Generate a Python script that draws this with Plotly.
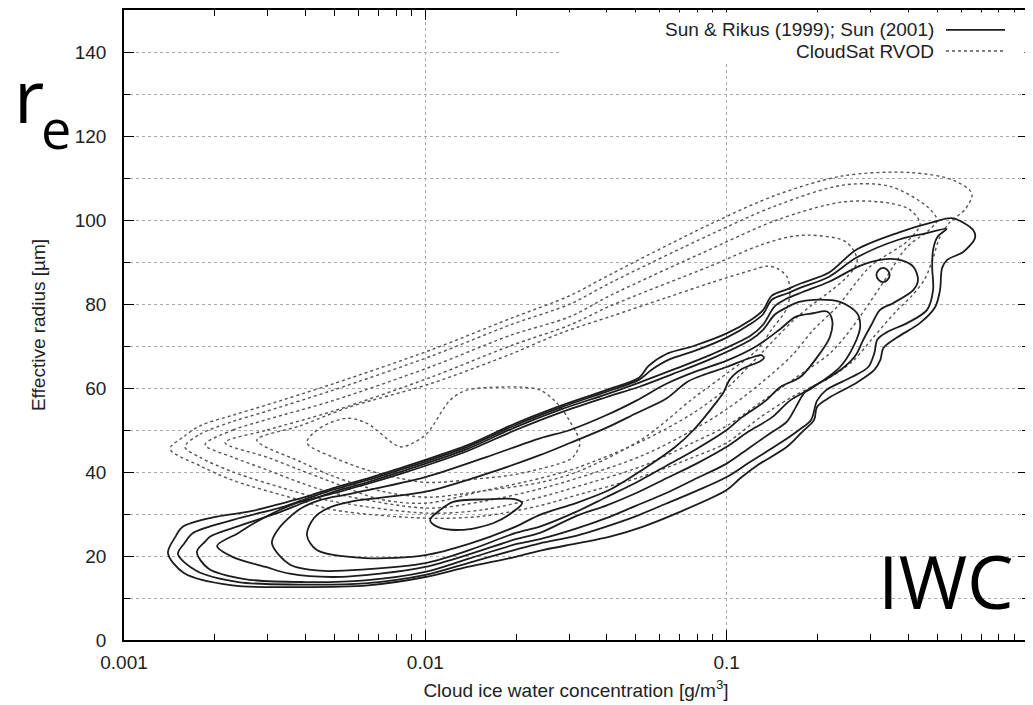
import numpy as np
import plotly.graph_objects as go

# ---------------------------------------------------------------------------
# Data.
# Each contour is a closed list of (log10 IWC [g/m^3], effective radius [um]).
# ---------------------------------------------------------------------------

# Sun & Rikus (1999); Sun (2001) -- solid contours, outermost first
SR_LEVEL1 = [(-2.854,20.7),(-2.83,24.5),(-2.804,27),(-2.691,29.4),(-2.582,30.6),(-2.472,32.6),(-2.40,34),
             (-2.30,36.3),(-2.19,38.5),(-2.08,41),(-1.97,43.6),(-1.86,46.4),(-1.70,51.6),(-1.55,55.8),
             (-1.40,59.5),(-1.29,62.5),(-1.26,65.2),(-1.20,68.1),(-1.11,70.0),(-1.00,73.0),(-0.92,76.2),
             (-0.88,78.5),(-0.85,82),(-0.80,83.5),(-0.75,85),(-0.66,87.5),(-0.57,92.9),(-0.43,97),
             (-0.315,99.5),(-0.249,100.4),(-0.182,97.6),(-0.176,95.7),(-0.215,92.4),(-0.268,90.5),
             (-0.285,88.6),(-0.292,83.3),(-0.308,79.3),(-0.358,75.5),(-0.435,72),(-0.48,69.5),(-0.49,66.7),
             (-0.51,64.3),(-0.57,61.2),(-0.655,57.9),(-0.70,55.5),(-0.71,52.4),(-0.75,49.5),(-0.80,46),
             (-0.90,41.5),(-0.955,38.5),(-1.00,35.7),(-1.165,30.2),(-1.277,27),(-1.387,24.6),(-1.497,23),
             (-1.61,21.4),(-1.70,19.8),(-1.86,17.4),(-2.00,15),(-2.19,13),(-2.42,12.6),(-2.64,13),
             (-2.80,15.9),(-2.854,20.7)]

SR_LEVEL2 = [(-2.821,20.5),(-2.80,23),(-2.771,25.5),(-2.638,28.6),(-2.472,31.7),(-2.40,33.5),(-2.30,35.9),
             (-2.19,38.1),(-2.08,40.6),(-1.97,43.2),(-1.86,46),(-1.70,51.2),(-1.55,55.4),(-1.40,59.1),
             (-1.29,62),(-1.25,64.3),(-1.19,66.8),(-1.10,69.0),(-1.00,72.0),(-0.92,75.3),(-0.88,77.5),
             (-0.85,81),(-0.80,82.5),(-0.75,84),(-0.66,86.5),(-0.57,91),(-0.43,95.3),(-0.34,96.8),
             (-0.27,97.9),(-0.30,96),(-0.315,92.9),(-0.318,88.8),(-0.315,83.3),(-0.335,78.6),(-0.40,75.5),
             (-0.468,73.3),(-0.50,71.5),(-0.51,68.3),(-0.53,65),(-0.585,62.6),(-0.67,59.5),(-0.70,57),
             (-0.72,52.4),(-0.76,50),(-0.82,47),(-0.92,42.5),(-1.00,38.8),(-1.10,35.5),(-1.20,32.5),
             (-1.30,29.5),(-1.40,27),(-1.50,24.8),(-1.62,23),(-1.70,21.5),(-1.85,18.5),(-2.00,15.5),
             (-2.20,13.5),(-2.42,13.2),(-2.62,13.8),(-2.76,16.5),(-2.821,20.5)]

SR_LEVEL3 = [(-2.758,21),(-2.73,23.5),(-2.715,24.6),(-2.638,26.7),(-2.492,30.2),(-2.40,32.8),(-2.30,35.4),
             (-2.19,37.6),(-2.08,40.1),(-1.97,42.7),(-1.86,45.5),(-1.70,50.7),(-1.55,54.9),(-1.40,58.5),
             (-1.29,61.3),(-1.18,64.3),(-1.05,68),(-0.92,72.5),(-0.88,75),(-0.84,79.5),(-0.80,81.3),
             (-0.75,82.8),(-0.66,85.3),(-0.56,89),(-0.491,90.5),(-0.434,90.6),(-0.381,88.9),(-0.365,85.7),
             (-0.381,83.3),(-0.448,80.2),(-0.491,78.6),(-0.52,75),(-0.55,71),(-0.57,68),(-0.61,65),
             (-0.66,62.5),(-0.74,59),(-0.77,55.5),(-0.80,52),(-0.86,49),(-0.93,45.5),(-1.00,42),
             (-1.10,38.5),(-1.20,35),(-1.30,32),(-1.40,29),(-1.50,26.5),(-1.62,24),(-1.70,22.8),
             (-1.85,19.5),(-2.00,16.2),(-2.20,14.2),(-2.40,13.8),(-2.60,14.5),(-2.72,17),(-2.758,21)]

SR_LEVEL4 = [(-2.691,22.4),(-2.62,25.5),(-2.549,28.6),(-2.439,32.3),(-2.30,35),(-2.19,37.2),(-2.08,39.6),
             (-1.97,42.2),(-1.86,45),(-1.70,50),(-1.55,54.2),(-1.40,57.8),(-1.29,60.3),(-1.18,63.3),
             (-1.05,67),(-0.92,71.5),(-0.88,73.8),(-0.84,77.5),(-0.80,79.2),(-0.76,80.5),(-0.713,81),
             (-0.624,80.5),(-0.567,77.8),(-0.557,74.6),(-0.58,69.8),(-0.624,65),(-0.713,60.2),(-0.79,57),
             (-0.85,53),(-0.93,49.5),(-1.00,46),(-1.10,42),(-1.20,38.5),(-1.30,35),(-1.40,32),(-1.50,29.5),
             (-1.62,25.5),(-1.70,24),(-1.85,20.5),(-2.00,17.4),(-2.15,15.8),(-2.31,15),(-2.45,15.8),
             (-2.53,17.4),(-2.64,19.8),(-2.691,22.4)]

SR_LEVEL5 = [(-2.509,23),(-2.49,26.2),(-2.42,31),(-2.35,33.3),(-2.25,34.8),(-2.00,38.8),(-1.80,43.5),
             (-1.62,48),(-1.52,50),(-1.40,53.5),(-1.30,57),(-1.20,61),(-1.10,64),(-1.00,66.5),(-0.90,70),
             (-0.823,74),(-0.77,77),(-0.713,77.8),(-0.667,78.2),(-0.65,76.2),(-0.657,72.2),(-0.69,68.3),
             (-0.756,62.6),(-0.823,60.2),(-0.87,57),(-0.95,53),(-1.00,50),(-1.10,45.5),(-1.20,41.5),
             (-1.30,37.5),(-1.40,34),(-1.50,30.5),(-1.62,27),(-1.70,25.5),(-1.85,21.5),(-2.00,18.3),
             (-2.20,16.8),(-2.35,16.5),(-2.45,18),(-2.509,23)]

SR_LEVEL6 = [(-2.393,25),(-2.37,29),(-2.32,31.5),(-2.25,32.9),(-2.00,35.3),(-1.80,39.5),(-1.62,44),
             (-1.52,46.9),(-1.40,50.5),(-1.30,54),(-1.20,57.5),(-1.13,61.5),(-1.07,63.3),(-1.00,65),
             (-0.92,67.2),(-0.885,67.8),(-0.876,67.2),(-0.89,66.3),(-0.95,64.5),(-0.99,62),(-1.01,59),
             (-1.03,57),(-1.11,50),(-1.17,46),(-1.28,40.5),(-1.39,35.7),(-1.50,32.6),(-1.62,29.8),
             (-1.70,27),(-1.85,23),(-2.00,20.2),(-2.20,19.5),(-2.36,21.4),(-2.393,25)]

SR_ISLAND = [(-1.984,28.6),(-1.95,31),(-1.908,32.9),(-1.80,33.5),(-1.70,33.5),(-1.679,32.6),(-1.70,31),
             (-1.775,27.8),(-1.885,26.2),(-1.961,27),(-1.984,28.6)]

SR_RING = [(-0.481,88.6),(-0.467,88.1),(-0.459,86.9),(-0.467,85.7),(-0.481,85.2),(-0.495,85.7),
           (-0.503,86.9),(-0.495,88.1),(-0.481,88.6)]

# CloudSat RVOD -- dotted contours, outermost first
RVOD_LEVEL1 = [(-2.847,45.5),(-2.80,48.5),(-2.748,51),(-2.64,53.5),(-2.525,56),(-2.306,61),(-1.984,69),
               (-1.719,76.5),(-1.52,82),(-1.387,87),(-1.055,99),(-0.833,106),(-0.614,110.5),(-0.391,111.3),
               (-0.249,109.5),(-0.186,106.3),(-0.209,102.5),(-0.259,99.5),(-0.292,96),(-0.315,91),
               (-0.342,86),(-0.385,82),(-0.441,78),(-0.514,72),(-0.58,66.5),(-0.657,62.5),(-0.78,58),
               (-0.889,53),(-0.999,47),(-1.112,43.5),(-1.277,39),(-1.497,34.5),(-1.619,32),(-1.809,29.5),
               (-1.994,29),(-2.306,31),(-2.416,33.3),(-2.638,38),(-2.748,41.5),(-2.847,45.5)]

RVOD_LEVEL2 = [(-2.798,46),(-2.748,49),(-2.64,52),(-2.525,54.5),(-2.306,59.5),(-1.984,67.5),(-1.719,75),
               (-1.52,80),(-1.387,85),(-1.055,96.5),(-0.833,103.5),(-0.614,108.3),(-0.458,108),
               (-0.335,103.2),(-0.302,100),(-0.33,97.5),(-0.401,93.6),(-0.491,84),(-0.59,73.8),
               (-0.657,68.3),(-0.78,62),(-0.889,56.5),(-0.999,51),(-1.112,47),(-1.277,41.5),(-1.497,36.5),
               (-1.619,34),(-1.809,31),(-1.994,30.2),(-2.306,33),(-2.416,35),(-2.638,40),(-2.748,43.5),
               (-2.798,46)]

RVOD_LEVEL3 = [(-2.731,46.5),(-2.638,50),(-2.525,52.5),(-2.306,57),(-1.984,65),(-1.719,72.5),(-1.52,77),
               (-1.387,82),(-1.055,93),(-0.833,100),(-0.614,104.3),(-0.458,104),(-0.391,102.4),(-0.358,99),
               (-0.40,95),(-0.524,88.9),(-0.634,79.3),(-0.713,73.8),(-0.78,68),(-0.889,61),(-0.999,55),
               (-1.112,50),(-1.277,44),(-1.497,38.5),(-1.619,36),(-1.809,33),(-1.994,31.4),(-2.306,35),
               (-2.416,37.5),(-2.525,40.5),(-2.638,43.5),(-2.731,46.5)]

RVOD_LEVEL4 = [(-2.665,47),(-2.525,50),(-2.306,54.5),(-1.984,62.5),(-1.719,70),(-1.52,75),(-1.387,79.5),
               (-1.055,89),(-0.889,94),(-0.79,96),(-0.723,96.4),(-0.614,95.2),(-0.58,92.9),(-0.567,90),
               (-0.60,86.5),(-0.657,83),(-0.713,80),(-0.78,76),(-0.889,68),(-0.999,60),(-1.112,54),
               (-1.277,47.5),(-1.497,41),(-1.619,38.5),(-1.809,35.5),(-1.994,32.6),(-2.15,33.5),
               (-2.306,37.5),(-2.416,40.5),(-2.525,43.5),(-2.665,47)]

RVOD_LEVEL5 = [(-2.559,47.6),(-2.416,51),(-2.25,55.5),(-1.984,61),(-1.719,68),(-1.553,73),(-1.387,77),
               (-1.20,81.5),(-1.055,85),(-0.92,88),(-0.866,89),(-0.833,88.5),(-0.80,86.5),(-0.79,83.3),
               (-0.80,79),(-0.85,74),(-0.90,69),(-0.999,63.5),(-1.112,57.5),(-1.277,48),(-1.497,40),
               (-1.619,37.5),(-1.809,35.5),(-1.994,34),(-2.15,35.5),(-2.306,39),(-2.416,42.5),(-2.559,47.6)]

RVOD_LEVEL6 = [(-2.393,47),(-2.349,50.5),(-2.26,52.8),(-2.194,51.6),(-2.084,46),(-2.041,46.9),(-1.994,49.2),
               (-1.918,57.1),(-1.862,59.5),(-1.752,60.2),(-1.686,60.2),(-1.619,59.5),(-1.563,56.4),
               (-1.52,52),(-1.487,47),(-1.50,44.5),(-1.52,43),(-1.696,39.5),(-1.809,38.5),(-1.994,37.5),
               (-2.084,38.5),(-2.194,40.5),(-2.306,43.5),(-2.393,47)]

SR_CONTOURS = [SR_LEVEL1, SR_LEVEL2, SR_LEVEL3, SR_LEVEL4, SR_LEVEL5, SR_LEVEL6, SR_ISLAND, SR_RING]
RVOD_CONTOURS = [RVOD_LEVEL1, RVOD_LEVEL2, RVOD_LEVEL3, RVOD_LEVEL4, RVOD_LEVEL5, RVOD_LEVEL6]

SERIES_NAMES = ["Sun & Rikus (1999); Sun (2001)", "CloudSat RVOD"]

X_TICKS = [0.001, 0.01, 0.1, 1]
X_TICK_LABELS = ["0.001", "0.01", "0.1", "1"]
X_MINOR_TICKS = [m * d for d in (0.001, 0.01, 0.1) for m in range(2, 10)]
Y_TICKS = [0, 20, 40, 60, 80, 100, 120, 140]

FONT = "Liberation Sans"
SOLID_COLOR = "#1c1c1c"
DOT_COLOR = "#555555"
GRID_COLOR = "#a8a8a8"

fig = go.Figure()

for cont in RVOD_CONTOURS:
    lg, re = zip(*cont)
    fig.add_trace(go.Scatter(
        x=10 ** np.array(lg), y=list(re), mode="lines",
        line=dict(color=DOT_COLOR, width=1.4, dash="3px,3px", shape="spline", smoothing=0.9),
        showlegend=False, hoverinfo="skip"))

for cont in SR_CONTOURS:
    lg, re = zip(*cont)
    fig.add_trace(go.Scatter(
        x=10 ** np.array(lg), y=list(re), mode="lines",
        line=dict(color=SOLID_COLOR, width=1.8, shape="spline", smoothing=0.9),
        showlegend=False, hoverinfo="skip"))

fig.update_xaxes(
    type="log", range=[-3, 0], automargin=False,
    tickvals=X_TICKS, ticktext=X_TICK_LABELS,
    ticks="inside", ticklen=10, tickwidth=1.2, tickcolor="black",
    showline=True, linecolor="black", linewidth=1.6, mirror="ticks",
    showgrid=True, gridcolor=GRID_COLOR, griddash="dot", gridwidth=1,
    zeroline=False,
    minor=dict(tickvals=X_MINOR_TICKS, ticks="inside", ticklen=6, tickwidth=1.2,
               tickcolor="black", showgrid=False),
    tickfont=dict(family=FONT, size=19, color="#222"),
    ticklabelstandoff=4,
    title=dict(text="Cloud ice water concentration [g/m<sup>3</sup>]",
               font=dict(family=FONT, size=19, color="#222"), standoff=12),
)

fig.update_yaxes(
    range=[0, 150], automargin=False,
    tickvals=Y_TICKS,
    ticks="inside", ticklen=10, tickwidth=1.2, tickcolor="black",
    showline=True, linecolor="black", linewidth=1.6, mirror="ticks",
    showgrid=True, gridcolor=GRID_COLOR, griddash="dot", gridwidth=1,
    zeroline=False,
    minor=dict(dtick=10, ticks="inside", ticklen=6, tickwidth=1.2, tickcolor="black",
               showgrid=True, gridcolor=GRID_COLOR, griddash="dot", gridwidth=1),
    tickfont=dict(family=FONT, size=19, color="#222"),
    ticklabelstandoff=12,
    title=dict(text="Effective radius [µm]", font=dict(family=FONT, size=19, color="#222"),
               standoff=24),
)

# legend box (gnuplot style: text right-aligned, sample to its right)
shapes = [
    dict(type="rect", xref="paper", yref="paper", x0=0.4845, x1=0.996, y0=0.918, y1=0.996,
         fillcolor="white", line=dict(width=0), layer="above"),
    dict(type="line", xref="paper", yref="paper", x0=0.9093, x1=0.9746, y0=0.9683, y1=0.9683,
         line=dict(color=SOLID_COLOR, width=1.8), layer="above"),
    dict(type="line", xref="paper", yref="paper", x0=0.9093, x1=0.9746, y0=0.9349, y1=0.9349,
         line=dict(color=DOT_COLOR, width=1.4, dash="3px,3px"), layer="above"),
]

annotations = [
    dict(text=SERIES_NAMES[0], xref="paper", yref="paper", x=0.898, y=0.9683,
         xanchor="right", yanchor="middle", showarrow=False,
         font=dict(family=FONT, size=19, color="#222")),
    dict(text=SERIES_NAMES[1], xref="paper", yref="paper", x=0.898, y=0.9349,
         xanchor="right", yanchor="middle", showarrow=False,
         font=dict(family=FONT, size=19, color="#222")),
    # big "r" with subscript "e"
    dict(text="r", xref="paper", yref="paper", x=-0.1239, y=0.8656,
         xanchor="left", yanchor="middle", showarrow=False,
         font=dict(family="Open Sans", size=74, color="black")),
    dict(text="e", xref="paper", yref="paper", x=-0.094, y=0.812,
         xanchor="left", yanchor="middle", showarrow=False,
         font=dict(family="Open Sans", size=54, color="black")),
    dict(text="IWC", xref="paper", yref="paper", x=0.909, y=0.095,
         xanchor="center", yanchor="middle", showarrow=False,
         font=dict(family="Open Sans", size=74, color="black")),
]

# The page body adds an 8 px offset, so the figure is sized to fit the window
fig.update_layout(
    width=1025, height=697,
    margin=dict(l=116, r=5, t=2, b=65),
    paper_bgcolor="white", plot_bgcolor="white",
    font=dict(family=FONT, size=19, color="#222"),
    shapes=shapes, annotations=annotations,
    showlegend=False,
)

fig.write_html("out.html")
